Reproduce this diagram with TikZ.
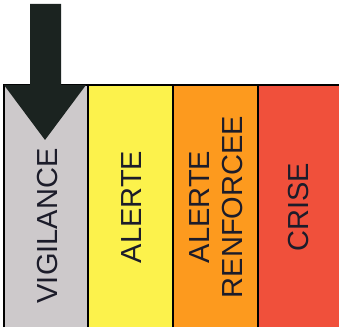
\documentclass[tikz,border=0pt]{standalone}
\usepackage{fontspec}
\setmainfont{Liberation Sans}
\definecolor{vgrey}{HTML}{CDC9CB}
\definecolor{vyellow}{HTML}{FCF24C}
\definecolor{vorange}{HTML}{FD9A1E}
\definecolor{vred}{HTML}{F0503B}
\definecolor{vdark}{HTML}{1B2320}
\definecolor{vtext}{HTML}{1C1C2A}

\begin{document}
\begin{tikzpicture}[
    x=1pt, y=1pt,
    level/.style={line width=1.6pt, draw=black},
    label/.style={rotate=90, align=center, text=vtext, font=\fontsize{29}{33}\selectfont, inner sep=0pt}
]
\useasboundingbox (0,0) rectangle (339,329);
\clip (0,0) rectangle (339,329);
% colour bands
\fill[vgrey] (4,2) rectangle (88,244);
\fill[vyellow] (88,2) rectangle (173,244);
\fill[vorange] (173,2) rectangle (258,244);
\fill[vred] (258,2) rectangle (345,244);
\draw[level] (4,2) -- (4,244) -- (345,244);
\draw[level] (88,2) -- (88,244);
\draw[level] (173,2) -- (173,244);
\draw[level] (258,2) -- (258,244);
% arrow on the current level
\fill[vdark] (30,325) -- (61,325) -- (61,244) -- (86,244) -- (45,189) -- (4,244) -- (30,244) -- cycle;
% labels
\node[label] (vigilance) at (47.5,103) {VIGILANCE};
\node[label] (alerte) at (132,122) {ALERTE};
\node[label] (renforcee) at (216,122) {ALERTE\\RENFORCEE};
\node[label] (crise) at (298.5,121.5) {CRISE};
\end{tikzpicture}
\end{document}
